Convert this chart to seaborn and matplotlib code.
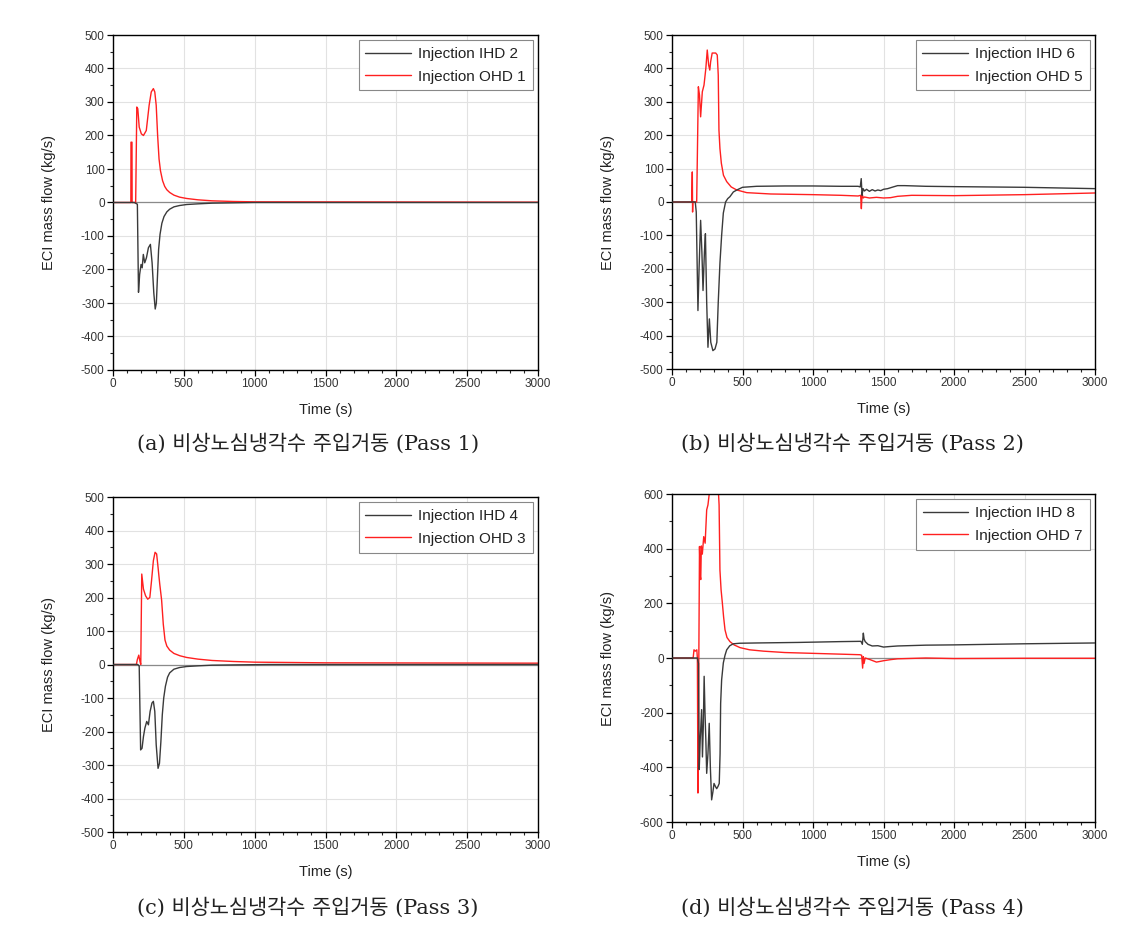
import numpy as np
import pandas as pd
import matplotlib
matplotlib.use("Agg")
import matplotlib.pyplot as plt
from matplotlib.ticker import MultipleLocator
import seaborn as sns

# ---------------- data ----------------
A_IHD_t = [0,150,172,180,188,198,206,214,224,236,250,264,276,288,298,306,314,322,332,345,360,380,400,430,470,520,600,700,850,1000,3000]
A_IHD_v = [0,0,-5,-268,-215,-185,-195,-155,-180,-165,-135,-125,-180,-270,-318,-300,-220,-140,-95,-62,-42,-28,-20,-13,-9,-6,-4,-2,-1,0,0]
A_OHD_t = [0,126,127,134,135,160,168,175,185,200,215,235,255,270,285,295,305,315,325,335,350,365,380,400,430,470,520,600,700,850,1000,3000]
A_OHD_v = [0,0,180,180,0,0,285,280,225,205,200,215,290,330,340,330,290,200,130,95,65,48,38,30,22,16,12,8,5,3,2,1]

B_IHD_t = [0,165,172,184,192,203,212,220,230,237,246,255,265,275,290,305,318,328,340,352,364,380,395,411,435,460,500,600,800,1000,1200,1320,1335,1342,1348,1355,1365,1380,1400,1420,1440,1460,1480,1500,1530,1560,1600,1650,1800,2000,2500,3000]
B_IHD_v = [0,0,-30,-325,-200,-55,-150,-265,-150,-95,-300,-435,-350,-420,-445,-440,-420,-300,-183,-100,-33,0,10,16,30,36,44,47,48,48,47,47,45,70,20,40,33,38,32,37,33,36,34,38,40,44,49,49,47,46,44,40]
B_OHD_t = [0,140,144,146,148,150,175,187,195,203,215,227,240,250,260,268,274,285,298,310,321,328,333,340,350,365,388,420,459,530,700,1000,1200,1320,1338,1343,1348,1356,1365,1400,1450,1500,1550,1600,1700,2000,2500,3000]
B_OHD_v = [0,0,90,-30,0,0,0,345,320,255,330,350,400,455,410,395,420,446,446,446,440,380,215,160,116,80,61,45,36,28,24,22,20,18,20,-20,25,12,15,12,14,12,13,17,20,19,22,27]

C_IHD_t = [0,175,185,195,205,215,225,238,250,262,275,285,295,305,318,328,338,348,358,370,385,400,430,470,520,600,700,900,1100,3000]
C_IHD_v = [0,0,-5,-255,-250,-215,-190,-170,-180,-140,-115,-110,-140,-240,-310,-295,-230,-150,-100,-65,-38,-25,-14,-9,-6,-4,-2,-1,0,0]
C_OHD_t = [0,165,172,182,190,196,203,215,230,245,260,272,285,297,308,318,330,343,355,367,380,400,430,473,520,600,700,850,1000,1500,3000]
C_OHD_v = [0,0,15,28,10,0,270,225,205,195,200,250,310,335,330,290,240,193,120,73,55,43,33,26,21,16,12,9,7,5,4]

D_IHD_t = [0,180,188,193,200,210,216,222,228,234,240,246,255,264,272,281,290,298,308,317,326,335,341,345,352,364,376,388,410,435,480,600,900,1200,1340,1350,1357,1362,1370,1390,1420,1460,1500,1546,1600,1800,2000,2500,3000]
D_IHD_v = [0,0,-20,-408,-300,-189,-362,-250,-67,-200,-300,-422,-350,-239,-400,-519,-490,-459,-470,-478,-470,-459,-350,-166,-80,-18,10,30,45,52,54,55,57,60,61,50,91,70,60,50,44,45,40,42,44,47,48,52,55]
D_OHD_t = [0,150,156,165,176,180,184,188,195,200,204,208,215,225,235,246,255,264,272,281,290,300,310,320,328,334,340,348,357,366,376,390,411,440,482,550,650,800,1000,1200,1333,1345,1352,1357,1362,1370,1400,1450,1500,1550,1600,1800,2000,2500,3000]
D_OHD_v = [0,0,30,25,30,0,-494,-200,408,300,287,410,380,444,420,542,560,600,620,620,610,620,620,620,620,560,322,250,202,150,103,75,60,48,38,30,25,20,17,14,12,10,-37,5,-20,0,-5,-15,-10,-6,-3,0,-2,-1,-1]

PANELS = [
    dict(ihd=(A_IHD_t, A_IHD_v), ohd=(A_OHD_t, A_OHD_v), ihd_lab="Injection IHD 2", ohd_lab="Injection OHD 1",
         cap="(a) 비상노심냉각수 주입거동 (Pass 1)", ylim=(-500, 500), ymaj=100, ymin=50),
    dict(ihd=(B_IHD_t, B_IHD_v), ohd=(B_OHD_t, B_OHD_v), ihd_lab="Injection IHD 6", ohd_lab="Injection OHD 5",
         cap="(b) 비상노심냉각수 주입거동 (Pass 2)", ylim=(-500, 500), ymaj=100, ymin=50),
    dict(ihd=(C_IHD_t, C_IHD_v), ohd=(C_OHD_t, C_OHD_v), ihd_lab="Injection IHD 4", ohd_lab="Injection OHD 3",
         cap="(c) 비상노심냉각수 주입거동 (Pass 3)", ylim=(-500, 500), ymaj=100, ymin=50),
    dict(ihd=(D_IHD_t, D_IHD_v), ohd=(D_OHD_t, D_OHD_v), ihd_lab="Injection IHD 8", ohd_lab="Injection OHD 7",
         cap="(d) 비상노심냉각수 주입거동 (Pass 4)", ylim=(-600, 600), ymaj=200, ymin=100),
]

# ---------------- style ----------------
sns.set_style("white")
plt.rcParams['font.family'] = ['Liberation Sans', 'DejaVu Sans']
plt.rcParams['axes.unicode_minus'] = False

W, H = 1137, 930
fig = plt.figure(figsize=(W / 100, H / 100), dpi=100)

# axes boxes in pixels: left, top, right, bottom
boxes = [(113, 35, 538, 370), (672, 35, 1095, 369), (113, 497, 538, 832), (672, 494, 1095, 822)]
cap_pos = [(308, 443), (852, 443), (308, 907), (852, 907)]

for p, (l, t, r, b), (cx, cy) in zip(PANELS, boxes, cap_pos):
    ax = fig.add_axes([l / W, 1 - b / H, (r - l) / W, (b - t) / H])
    ax.grid(True, which="major", color="#e2e2e2", linewidth=0.8, zorder=0)
    ax.axhline(0, color="#8a8a8a", linewidth=0.9, zorder=1)
    dfi = pd.DataFrame({"t": p["ihd"][0], "v": p["ihd"][1]})
    dfo = pd.DataFrame({"t": p["ohd"][0], "v": p["ohd"][1]})
    sns.lineplot(data=dfi, x="t", y="v", ax=ax, color="#3a3a3a", linewidth=1.0,
                 estimator=None, sort=False, label=p["ihd_lab"], zorder=3)
    sns.lineplot(data=dfo, x="t", y="v", ax=ax, color="#ff2020", linewidth=1.0,
                 estimator=None, sort=False, label=p["ohd_lab"], zorder=2)
    ax.set_xlim(0, 3000)
    ax.set_ylim(*p["ylim"])
    ax.xaxis.set_major_locator(MultipleLocator(500))
    ax.xaxis.set_minor_locator(MultipleLocator(100))
    ax.yaxis.set_major_locator(MultipleLocator(p["ymaj"]))
    ax.yaxis.set_minor_locator(MultipleLocator(p["ymin"]))
    ax.tick_params(which="major", direction="out", length=4, width=0.9, labelsize=8.5,
                   colors="black", labelcolor="#333333", pad=2)
    ax.tick_params(which="minor", direction="out", length=2.5, width=0.8)
    ax.tick_params(top=False, right=False, bottom=True, left=True, which="both")
    for s in ax.spines.values():
        s.set_color("black")
        s.set_linewidth(1.0)
    ax.set_xlabel("Time (s)", fontsize=10.5, labelpad=9, color="#222222")
    ax.set_ylabel("ECI mass flow (kg/s)", fontsize=10.5, labelpad=18, color="#222222")
    leg = ax.legend(loc="upper right", fontsize=11, frameon=True, fancybox=False,
                    edgecolor="#888888", framealpha=1, handlelength=3.0,
                    borderpad=0.45, labelspacing=0.55, handletextpad=0.45,
                    borderaxespad=0.35)
    leg.get_frame().set_linewidth(0.8)
    for txt in leg.get_texts():
        txt.set_color("#222222")
    fig.text(cx / W, 1 - cy / H, p["cap"], ha="center", va="center", fontsize=15,
             family=["DejaVu Serif", "Noto Sans CJK KR"], color="#222222")

fig.savefig("out.png", dpi=100)
